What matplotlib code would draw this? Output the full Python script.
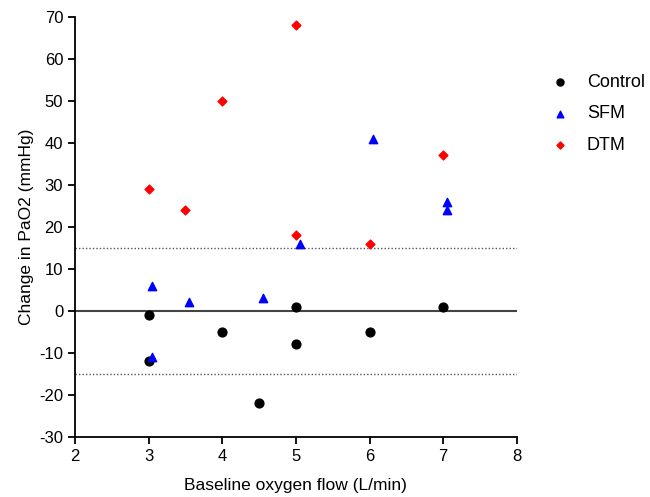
import matplotlib
matplotlib.use("Agg")
import matplotlib.pyplot as plt

plt.rcParams['font.family'] = ['Liberation Sans', 'DejaVu Sans']
plt.rcParams['axes.unicode_minus'] = False

ctrl_x = [3, 3, 4, 4.5, 5, 5, 6, 7]
ctrl_y = [-1, -12, -5, -22, 1, -8, -5, 1]
sfm_x = [3.05, 3.05, 3.55, 4.55, 5.05, 6.05, 7.05, 7.05]
sfm_y = [6, -11, 2, 3, 16, 41, 26, 24]
dtm_x = [3, 3.5, 4, 5, 5, 6, 7]
dtm_y = [29, 24, 50, 68, 18, 16, 37]
limits = [15, -15]

fig = plt.figure(figsize=(6.5, 4.97), dpi=100)
ax = fig.add_axes([0.1154, 0.121, 0.6796, 0.845])

ax.axhline(0, color='#444444', lw=1.5, zorder=1)
for l in limits:
    ax.axhline(l, color='#555555', lw=1.0, ls=(0, (1, 1.5)), zorder=1)

ax.scatter(ctrl_x, ctrl_y, marker='o', s=40, color='black', label='Control', zorder=3)
ax.scatter(sfm_x, sfm_y, marker='^', s=36, color='#0000ff', label='SFM', zorder=3)
ax.scatter(dtm_x, dtm_y, marker='D', s=20, color='#ff0000', label='DTM', zorder=3)

ax.set_xlim(2, 8)
ax.set_ylim(-30, 70)
ax.set_xticks(range(2, 9))
ax.set_yticks(range(-30, 71, 10))
for s in ['top', 'right']:
    ax.spines[s].set_visible(False)
for s in ['left', 'bottom']:
    ax.spines[s].set_linewidth(1.3)
ax.tick_params(labelsize=12, width=1.3, length=5)
ax.set_xlabel('Baseline oxygen flow (L/min)', fontsize=12.5, labelpad=10)
ax.set_ylabel('Change in PaO2 (mmHg)', fontsize=12.5)

leg = ax.legend(loc='upper left', bbox_to_anchor=(1.04, 0.903), frameon=False,
                fontsize=13, handlelength=1.0, handletextpad=1.0,
                labelspacing=0.8, markerscale=0.8)

fig.savefig('out.png', dpi=100)
